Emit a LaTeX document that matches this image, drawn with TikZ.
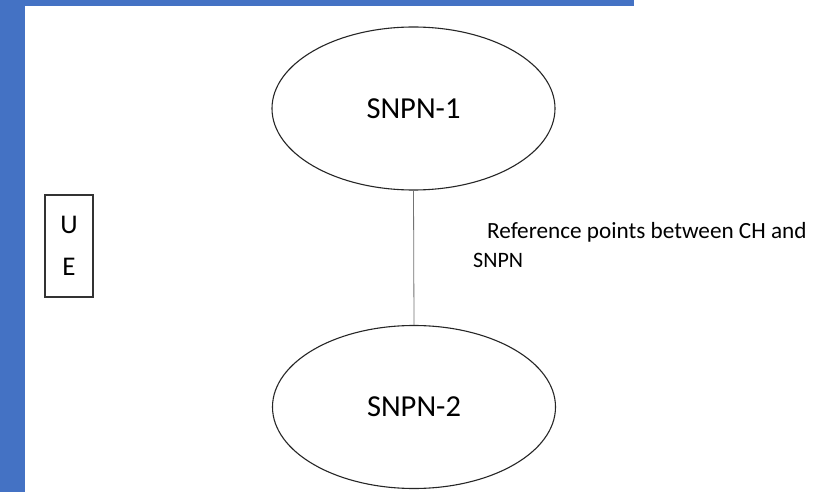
\documentclass[tikz,border=0pt]{standalone}
\usepackage{fontspec}
\setmainfont{Carlito}
\usetikzlibrary{shapes.geometric}
\definecolor{officeblue}{RGB}{68,114,196}
\begin{document}
\begin{tikzpicture}[x=1pt,y=-1pt,
  net/.style={draw=black!85,line width=1.1pt,ellipse,minimum width=283pt,minimum height=163pt,inner sep=0pt,font=\fontsize{30.5}{34}\selectfont},
  uebox/.style={draw=black!80,line width=1.1pt,minimum width=48pt,minimum height=102pt,inner sep=0pt,font=\fontsize{27}{42}\selectfont,align=center},
  link/.style={draw=black!55,line width=0.8pt},
  lbl/.style={font=\fontsize{22}{29}\selectfont,align=left,inner sep=0pt,anchor=north west}]
\useasboundingbox (0,0) rectangle (828,492);
\fill[white] (0,0) rectangle (828,492);
\fill[officeblue] (0,0) rectangle (634,6);
\fill[officeblue] (0,0) rectangle (25,492);
\node[net] (s1) at (413.5,108.5) {SNPN-1};
\node[net] (s2) at (414,407) {SNPN-2};
\node[uebox] (ue) at (69,246) {U\\E};
\draw[link] (s1.south) -- (s2.north);
\node[lbl] (ref) at (473,222) {\hspace*{14pt}{\fontsize{23.2}{29}\selectfont Reference points between CH and}\\SNPN};
\end{tikzpicture}
\end{document}
